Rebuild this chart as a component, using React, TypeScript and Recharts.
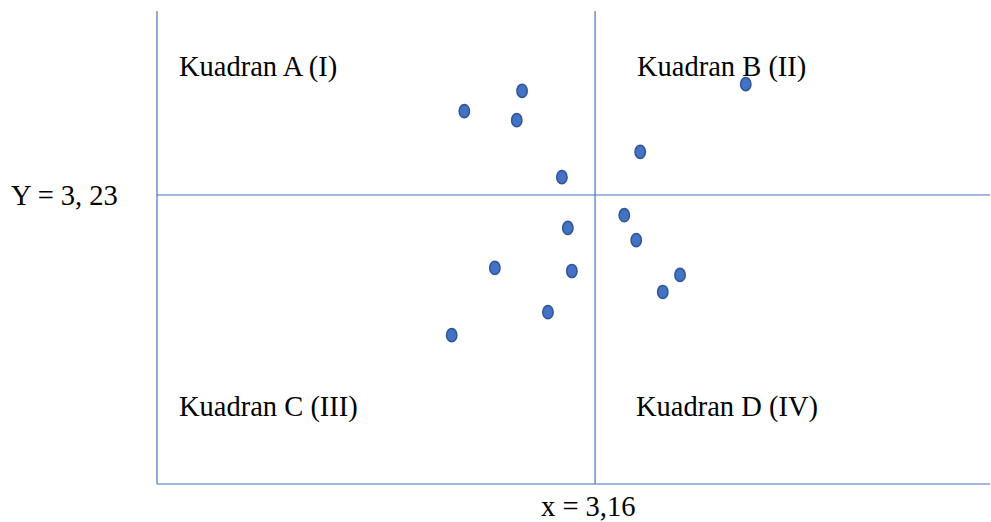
import { ReferenceLine, Scatter, ScatterChart, XAxis, YAxis } from "recharts"

const X_MID = 3.16
const Y_MID = 3.23
const X_DOMAIN = [2.5, 3.755]
const Y_DOMAIN = [2.5, 3.6947]

const xValues = [2.963, 3.05, 3.042, 3.11, 3.228, 3.387, 3.204, 3.119, 3.222, 3.009, 3.125, 3.288, 3.262, 3.089, 2.944]
const yValues = [3.442, 3.493, 3.419, 3.275, 3.339, 3.51, 3.179, 3.147, 3.116, 3.046, 3.038, 3.028, 2.985, 2.934, 2.876]

const quadrantLabels = ["Kuadran A (I)", "Kuadran B (II)", "Kuadran C (III)", "Kuadran D (IV)"]

const points = xValues.map((x, i) => ({ x, y: yValues[i] }))

const LINE = "#4472C4"
const FONT = "'Liberation Serif', 'Times New Roman', serif"

function Dot(props: any) {
  const { cx, cy } = props
  return <ellipse cx={cx} cy={cy} rx={5.2} ry={6.6} fill="#4472C4" stroke="#2F5597" strokeWidth={1.5} />
}

const textStyle: React.CSSProperties = {
  position: "absolute",
  fontFamily: FONT,
  fontSize: 28.5,
  color: "#000",
  whiteSpace: "nowrap",
  lineHeight: 1,
}

export default function App() {
  return (
    <div style={{ position: "absolute", left: 0, top: 0, width: 991, height: 522, background: "#fff", overflow: "hidden" }}>
      <ScatterChart width={991} height={522} margin={{ top: 11, right: 1, bottom: 38, left: 157 }}>
        <XAxis type="number" dataKey="x" domain={X_DOMAIN} hide allowDataOverflow />
        <YAxis type="number" dataKey="y" domain={Y_DOMAIN} hide allowDataOverflow />
        <ReferenceLine x={X_DOMAIN[0]} stroke={LINE} strokeWidth={1.2} />
        <ReferenceLine y={Y_DOMAIN[0]} stroke={LINE} strokeWidth={1.2} />
        <ReferenceLine x={X_MID} stroke={LINE} strokeWidth={1.2} />
        <ReferenceLine y={Y_MID} stroke={LINE} strokeWidth={1.2} />
        <Scatter data={points} shape={<Dot />} isAnimationActive={false} />
      </ScatterChart>
      <div style={{ ...textStyle, left: 179, top: 53 }}>{quadrantLabels[0]}</div>
      <div style={{ ...textStyle, left: 637, top: 53 }}>{quadrantLabels[1]}</div>
      <div style={{ ...textStyle, left: 179, top: 393 }}>{quadrantLabels[2]}</div>
      <div style={{ ...textStyle, left: 636, top: 393 }}>{quadrantLabels[3]}</div>
      <div style={{ ...textStyle, left: 11, top: 182 }}>{`Y = ${String(Y_MID).replace(".", ", ")}`}</div>
      <div style={{ ...textStyle, left: 541, top: 493 }}>{`x = ${String(X_MID).replace(".", ",")}`}</div>
    </div>
  )
}
